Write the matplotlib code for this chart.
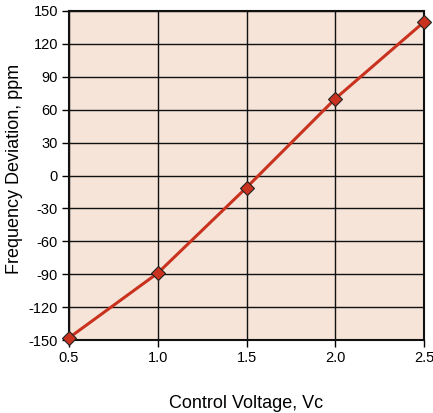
import matplotlib
matplotlib.use("Agg")
import matplotlib.pyplot as plt

voltage = [0.5, 1.0, 1.5, 2.0, 2.5]
deviation = [-148, -89, -11, 70, 140]
x_ticks = [0.5, 1.0, 1.5, 2.0, 2.5]
y_ticks = list(range(-150, 151, 30))

plt.rcParams['font.family'] = ['Liberation Sans', 'DejaVu Sans']
plt.rcParams['axes.unicode_minus'] = False

fig = plt.figure(figsize=(4.33, 4.13), dpi=100)
ax = fig.add_axes([69/433, 73/413, 355/433, 329/413])
ax.set_facecolor('#F6E4D9')
ax.plot(voltage, deviation, color='#C8321E', lw=2.2, marker='D', ms=7,
        mfc='#C8321E', mec='#222222', mew=0.8, zorder=3, clip_on=False)
ax.set_xlim(0.5, 2.5)
ax.set_ylim(-150, 150)
ax.set_xticks(x_ticks)
ax.set_xticklabels([f"{v:.1f}" for v in x_ticks])
ax.set_yticks(y_ticks)
ax.set_yticklabels([str(v) for v in y_ticks])
ax.grid(True, color='#111111', lw=1.0)
ax.set_axisbelow(True)
for s in ax.spines.values():
    s.set_linewidth(1.5)
    s.set_color('#111111')
ax.tick_params(direction='out', length=5, width=1, labelsize=10.5, pad=3)
ax.set_xlabel('Control Voltage, Vc', fontsize=13)
ax.xaxis.set_label_coords(0.5, -(395 - 340) / 329, transform=ax.transAxes)
ax.set_ylabel('Frequency Deviation, ppm', fontsize=13)
ax.yaxis.set_label_coords(-(69 - 23) / 355, (340 - 168.5) / 329, transform=ax.transAxes)
fig.savefig('out.png', dpi=100)
